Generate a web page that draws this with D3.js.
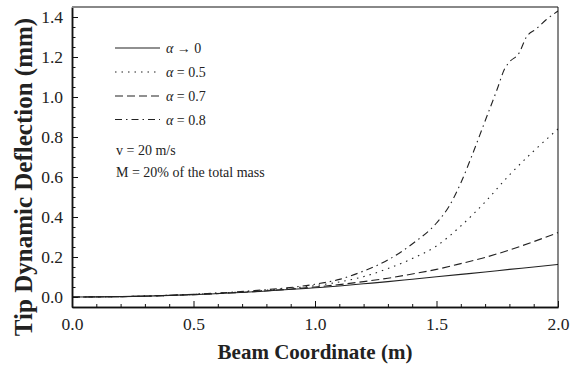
<!DOCTYPE html>
<html><head><meta charset="utf-8">
<script src="https://cdn.jsdelivr.net/npm/d3@7"></script>
<style>body{margin:0;background:#fff}svg{display:block}</style>
</head><body><svg id="c" width="582" height="365"></svg>
<script>
// ---- data ----
const beamX = [0, 0.25, 0.5, 0.75, 1.0, 1.1, 1.2, 1.3, 1.4, 1.5, 1.6, 1.7, 1.8, 1.9, 2.0];
const alpha0 = [0, 0.003, 0.012, 0.026, 0.046, 0.055, 0.066, 0.077, 0.089, 0.101, 0.113, 0.125, 0.138, 0.150, 0.163];
const alpha05 = [0, 0.003, 0.013, 0.030, 0.057, 0.075, 0.102, 0.142, 0.192, 0.255, 0.355, 0.475, 0.61, 0.73, 0.84];
const alpha07 = [0, 0.003, 0.012, 0.027, 0.050, 0.062, 0.077, 0.094, 0.115, 0.138, 0.167, 0.198, 0.235, 0.277, 0.322];
const beamX08 = [0, 0.25, 0.5, 0.75, 1.0, 1.1, 1.2, 1.3, 1.4, 1.5, 1.55, 1.6, 1.65, 1.7, 1.75, 1.78, 1.8, 1.84, 1.87, 1.91, 1.95, 2.0];
const alpha08 = [0, 0.003, 0.014, 0.032, 0.064, 0.088, 0.13, 0.185, 0.265, 0.37, 0.45, 0.57, 0.72, 0.88, 1.04, 1.14, 1.175, 1.22, 1.30, 1.34, 1.385, 1.43];
const seriesLabels = ["\u2192 0", "= 0.5", "= 0.7", "= 0.8"];
const xMajorTicks = [0, 0.5, 1.0, 1.5, 2.0];
const yMajorTicks = [0, 0.2, 0.4, 0.6, 0.8, 1.0, 1.2, 1.4];
const infoLines = ["v = 20 m/s", "M = 20% of the total mass"];

// ---- layout ----
const W = 582, H = 365;
const m = {left: 72, top: 7, right: 24, bottom: 58};
const pw = W - m.left - m.right, ph = H - m.top - m.bottom;
const FONT = "Liberation Serif, Tinos, Times New Roman, Nimbus Roman, DejaVu Serif, serif";
const INK = "#222";

const svg = d3.select("#c");
svg.append("rect").attr("width", W).attr("height", H).attr("fill", "#fff");
const g = svg.append("g").attr("transform", `translate(${m.left},${m.top})`);

const x = d3.scaleLinear().domain([0, 2.0]).range([0, pw]);
const y = d3.scaleLinear().domain([-0.05, 1.45]).range([ph, 0]);

const styles = [
  {dash: null},
  {dash: "1.5,5"},
  {dash: "8,4"},
  {dash: "7,4,1.5,4"}
];
const series = [
  {xs: beamX, ys: alpha0},
  {xs: beamX, ys: alpha05},
  {xs: beamX, ys: alpha07},
  {xs: beamX08, ys: alpha08}
];

g.append("clipPath").attr("id", "clip").append("rect").attr("width", pw).attr("height", ph);

const line = d3.line().x(d => x(d[0])).y(d => y(d[1])).curve(d3.curveMonotoneX);
const lg = g.append("g").attr("clip-path", "url(#clip)");
series.forEach((s, i) => {
  lg.append("path")
    .datum(s.xs.map((v, j) => [v, s.ys[j]]))
    .attr("d", line)
    .attr("fill", "none")
    .attr("stroke", INK)
    .attr("stroke-width", 1.1)
    .attr("stroke-dasharray", styles[i].dash);
});

const minorX = d3.range(0, 21).map(i => i / 10).filter(v => Math.abs(v * 2 - Math.round(v * 2)) > 1e-6);
const minorY = d3.range(-1, 30).map(i => i * 0.05).filter(v => Math.abs(v * 5 - Math.round(v * 5)) > 1e-6);

const xAxis = g.append("g").attr("transform", `translate(0,${ph})`)
  .call(d3.axisBottom(x).tickValues(xMajorTicks).tickFormat(d3.format(".1f")).tickSizeInner(-6).tickSizeOuter(0).tickPadding(11));
const xMinor = g.append("g").attr("transform", `translate(0,${ph})`)
  .call(d3.axisBottom(x).tickValues(minorX).tickFormat("").tickSizeInner(-3).tickSizeOuter(0));
const yAxis = g.append("g")
  .call(d3.axisLeft(y).tickValues(yMajorTicks).tickFormat(d3.format(".1f")).tickSizeInner(-6).tickSizeOuter(0).tickPadding(9));
const yMinor = g.append("g")
  .call(d3.axisLeft(y).tickValues(minorY).tickFormat("").tickSizeInner(-3.5).tickSizeOuter(0));

[xAxis, xMinor, yAxis, yMinor].forEach(a => {
  a.attr("font-family", null).style("font-family", FONT);
  a.selectAll("path.domain").attr("stroke", "#111").attr("stroke-width", 1.5);
  a.selectAll("line").attr("stroke", "#111").attr("stroke-width", 1);
  a.selectAll("text").style("font-family", FONT).attr("font-size", 17.5).attr("fill", "#222");
});

g.append("line").attr("x1", 0).attr("x2", pw).attr("y1", 0).attr("y2", 0)
  .attr("stroke", "#888").attr("stroke-width", 2);
g.append("line").attr("x1", pw).attr("x2", pw).attr("y1", 0).attr("y2", ph)
  .attr("stroke", "#111").attr("stroke-width", 1);

svg.append("text").attr("x", m.left + pw / 2).attr("y", 359)
  .attr("text-anchor", "middle").style("font-family", FONT).attr("font-weight", "bold")
  .attr("font-size", 21).attr("fill", "#222").text("Beam Coordinate (m)");
svg.append("text").attr("transform", `translate(32,177) rotate(-90)`)
  .attr("text-anchor", "middle").style("font-family", FONT).attr("font-weight", "bold")
  .attr("font-size", 25).attr("fill", "#222").text("Tip Dynamic Deflection (mm)");

const leg = svg.append("g");
const rowY = [48, 72, 96, 119.5];
seriesLabels.forEach((lab, i) => {
  leg.append("line").attr("x1", 115).attr("x2", 160).attr("y1", rowY[i]).attr("y2", rowY[i])
    .attr("stroke", INK).attr("stroke-width", 1.1).attr("stroke-dasharray", styles[i].dash);
  const t = leg.append("text").attr("x", 166).attr("y", rowY[i] + 5)
    .style("font-family", FONT).attr("font-size", 14).attr("fill", "#222");
  t.append("tspan").attr("font-style", "italic").text("\u03B1");
  t.append("tspan").text(" " + lab);
});
infoLines.forEach((txt, i) => {
  leg.append("text").attr("x", 116).attr("y", 155 + i * 21.5)
    .style("font-family", FONT).attr("font-size", 14).attr("fill", "#222").text(txt);
});
</script></body></html>
